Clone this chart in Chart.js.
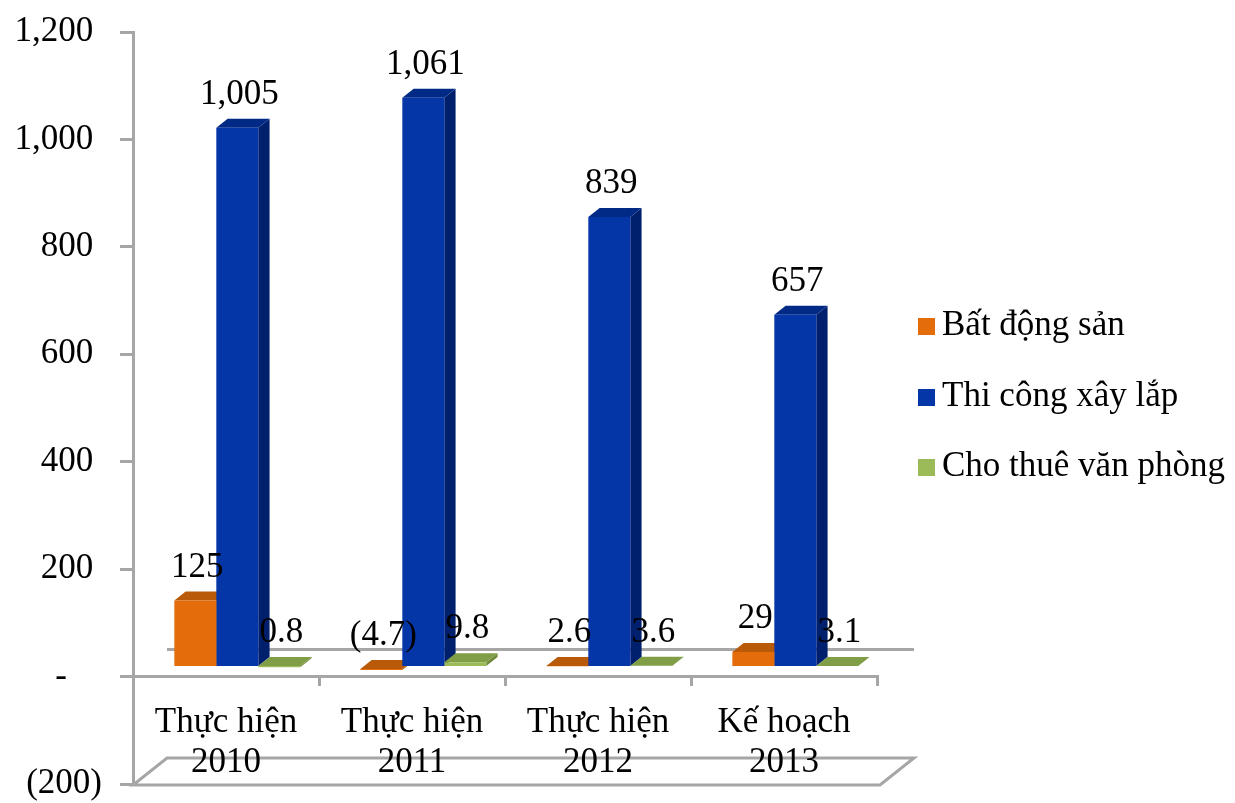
<!DOCTYPE html>
<html>
<head>
<meta charset="utf-8">
<script src="https://cdn.jsdelivr.net/npm/chart.js@4.4.1/dist/chart.umd.min.js"></script>
<style>
  html, body { margin: 0; padding: 0; background: #fff; }
  #wrap { width: 1235px; height: 803px; }
</style>
</head>
<body>
<div id="wrap"><canvas id="myChart"></canvas></div>
<script>
const categories = [["Thực hiện", "2010"], ["Thực hiện", "2011"], ["Thực hiện", "2012"], ["Kế hoạch", "2013"]];
const seriesNames = ["Bất động sản", "Thi công xây lắp", "Cho thuê văn phòng"];
const batDongSan = [125, -4.7, 2.6, 29];
const thiCongXayLap = [1005, 1061, 839, 657];
const choThueVanPhong = [0.8, 9.8, 3.6, 3.1];
const yTicks = [-200, 0, 200, 400, 600, 800, 1000, 1200];

// front / side / top colours for each series
const faces = [
  { front: "#e46c0a", side: "#a04c06", top: "#b85a08" },
  { front: "#0536a8", side: "#001f6c", top: "#002a86" },
  { front: "#9bbb59", side: "#6e8a3a", top: "#7f9e46" }
];

const FONT = "'Liberation Serif', 'Times New Roman', serif";
const FSIZE = 35;
const GRAY = "#a6a6a6";
const DEPTH = { x: 34, y: -27 };          // floor depth offset
const BAR_D = { x: 11.3, y: -9 };         // bar depth / shift into the floor

function fmt(v) {
  const s = Math.abs(v).toLocaleString("en-US", { maximumFractionDigits: 1 });
  return v < 0 ? "(" + s + ")" : s;
}

const threeD = {
  id: "threeD",
  beforeDraw(chart) {
    const ctx = chart.ctx, a = chart.chartArea, y = chart.scales.y;
    const yFloor = y.getPixelForValue(-200);
    const yZero = y.getPixelForValue(0);
    ctx.save();
    ctx.strokeStyle = GRAY;
    ctx.lineWidth = 3;
    // floor at the bottom of the value range
    ctx.beginPath();
    ctx.moveTo(a.left, yFloor + 1);
    ctx.lineTo(a.right + 3, yFloor + 1);
    ctx.lineTo(a.right + 3 + DEPTH.x, yFloor + 1 + DEPTH.y);
    ctx.lineTo(a.left + DEPTH.x, yFloor + 1 + DEPTH.y);
    ctx.closePath();
    ctx.stroke();
    // back line of the zero plane
    ctx.beginPath();
    ctx.moveTo(a.left + DEPTH.x, yZero + DEPTH.y);
    ctx.lineTo(a.right + DEPTH.x + 3, yZero + DEPTH.y);
    ctx.stroke();
    ctx.restore();
  },
  beforeDatasetsDraw(chart) {
    const ctx = chart.ctx;
    ctx.save();
    ctx.translate(BAR_D.x, BAR_D.y);
    const n = chart.data.labels.length;
    for (let i = 0; i < n; i++) {
      chart.data.datasets.forEach((ds, d) => {
        const bar = chart.getDatasetMeta(d).data[i];
        const half = bar.width / 2;
        const l = bar.x - half, r = bar.x + half;
        const top = Math.min(bar.y, bar.base), bot = Math.max(bar.y, bar.base);
        // side face
        ctx.fillStyle = faces[d].side;
        ctx.beginPath();
        ctx.moveTo(r, top);
        ctx.lineTo(r + BAR_D.x, top + BAR_D.y);
        ctx.lineTo(r + BAR_D.x, bot + BAR_D.y);
        ctx.lineTo(r, bot);
        ctx.closePath();
        ctx.fill();
        // top face
        ctx.fillStyle = faces[d].top;
        ctx.beginPath();
        ctx.moveTo(l, top);
        ctx.lineTo(l + BAR_D.x, top + BAR_D.y);
        ctx.lineTo(r + BAR_D.x, top + BAR_D.y);
        ctx.lineTo(r, top);
        ctx.closePath();
        ctx.fill();
      });
    }
  },
  afterDatasetsDraw(chart) {
    const ctx = chart.ctx;
    // value labels above each bar
    ctx.font = FSIZE + "px " + FONT;
    ctx.fillStyle = "#000";
    ctx.textAlign = "center";
    ctx.textBaseline = "middle";
    chart.data.datasets.forEach((ds, d) => {
      chart.getDatasetMeta(d).data.forEach((bar, i) => {
        const top = Math.min(bar.y, bar.base);
        ctx.fillText(fmt(ds.data[i]), bar.x + 2, top + BAR_D.y - 24);
      });
    });
    ctx.restore();
  },
  afterDraw(chart) {
    const ctx = chart.ctx;
    ctx.save();
    ctx.font = FSIZE + "px " + FONT;
    ctx.textBaseline = "middle";
    ctx.textAlign = "left";
    const rows = [326, 397, 467];
    chart.data.datasets.forEach((ds, d) => {
      ctx.fillStyle = faces[d].front;
      ctx.fillRect(918, rows[d] - 8, 17, 17);
      ctx.fillStyle = "#000";
      ctx.fillText(ds.label, 942, rows[d]);
    });
    ctx.restore();
  }
};

const ctx = document.getElementById("myChart");

new Chart(ctx, {
  type: "bar",
  data: {
    labels: categories,
    datasets: [
      { label: seriesNames[0], data: batDongSan, backgroundColor: faces[0].front },
      { label: seriesNames[1], data: thiCongXayLap, backgroundColor: faces[1].front },
      { label: seriesNames[2], data: choThueVanPhong, backgroundColor: faces[2].front }
    ]
  },
  options: {
    responsive: true,
    maintainAspectRatio: false,
    animation: false,
    layout: { padding: { left: 0, right: 358, top: 32, bottom: 19 } },
    datasets: { bar: { categoryPercentage: 0.677, barPercentage: 1, borderWidth: 0 } },
    plugins: { legend: { display: false }, tooltip: { enabled: false } },
    scales: {
      x: {
        position: { y: 0 },
        offset: true,
        afterFit(scale) { scale.paddingLeft = 0; scale.paddingRight = 0; },
        grid: { offset: true, drawOnChartArea: false, drawTicks: true, tickLength: 8, color: GRAY, lineWidth: 3 },
        border: { color: GRAY, width: 3 },
        ticks: { color: "#000", padding: 18, maxRotation: 0, font: { family: FONT, size: FSIZE, lineHeight: 1.14 } }
      },
      y: {
        min: yTicks[0],
        max: yTicks[yTicks.length - 1],
        afterFit(scale) { scale.width = 133; scale.paddingTop = 0; scale.paddingBottom = 0; },
        afterBuildTicks(scale) { scale.ticks = yTicks.map(v => ({ value: v })); },
        grid: { drawOnChartArea: false, drawTicks: true, tickLength: 13, color: GRAY, lineWidth: 3 },
        border: { color: GRAY, width: 3 },
        ticks: {
          color: "#000",
          padding: 18,
          font: { family: FONT, size: FSIZE },
          callback: v => v === 0 ? "-    " : (v < 0 ? fmt(v) : fmt(v) + " ")
        }
      }
    }
  },
  plugins: [threeD]
});
</script>
</body>
</html>
